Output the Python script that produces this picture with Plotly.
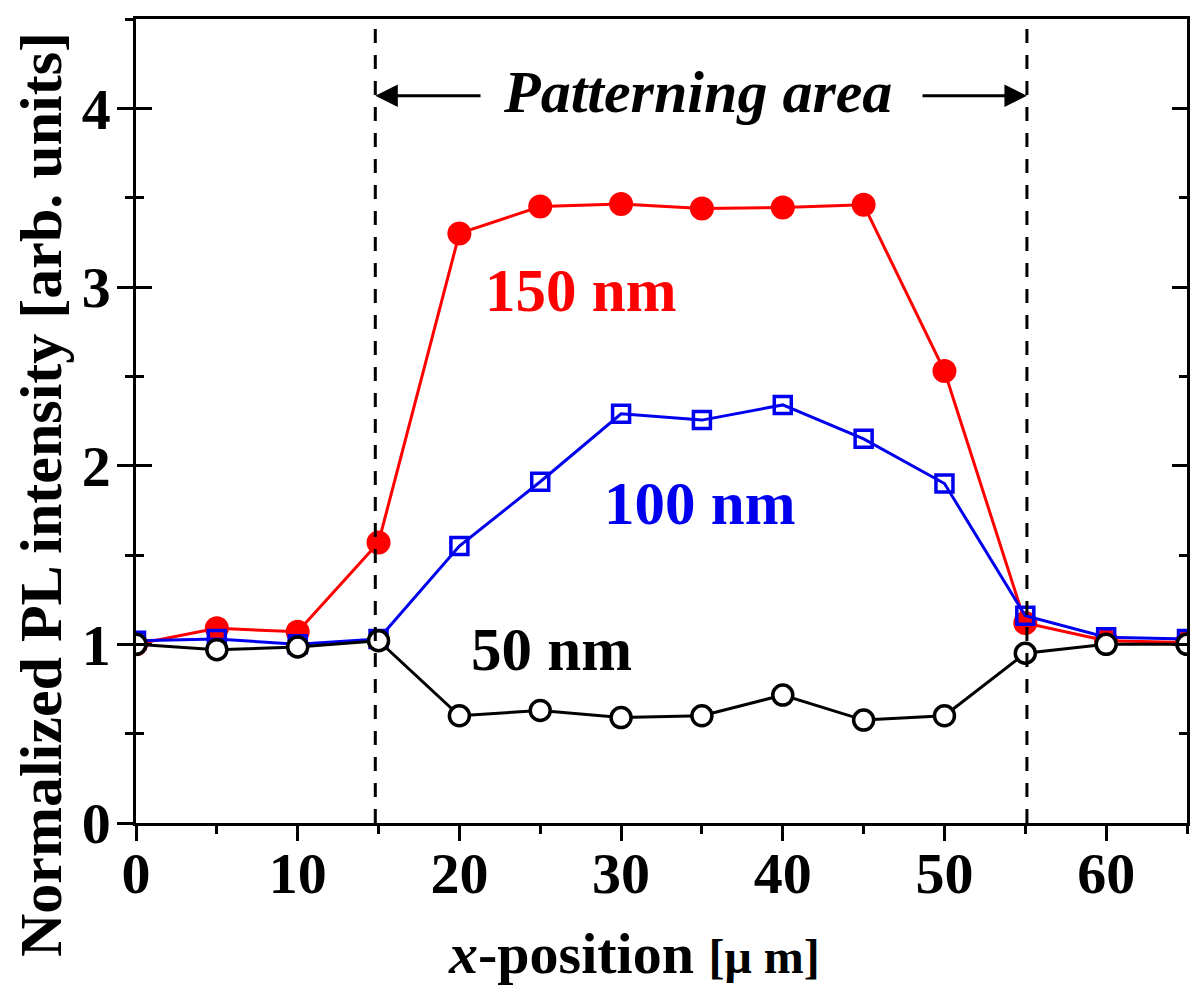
import plotly.graph_objects as go

x_pos = [0, 5, 10, 15, 20, 25, 30, 35, 40, 45, 50, 55, 60, 65]
pl_150 = [1.00, 1.09, 1.07, 1.57, 3.30, 3.45, 3.465, 3.44, 3.445, 3.46, 2.53, 1.12, 1.02, 1.01]
pl_100 = [1.02, 1.03, 1.00, 1.03, 1.55, 1.91, 2.29, 2.255, 2.34, 2.15, 1.90, 1.16, 1.04, 1.03]
pl_50 = [1.00, 0.97, 0.985, 1.02, 0.60, 0.63, 0.59, 0.60, 0.716, 0.576, 0.60, 0.95, 1.00, 1.00]

pattern_edges = [14.8, 55.1]
arrow_y = 4.07

FONT = "Liberation Serif"

fig = go.Figure()
fig.add_trace(go.Scatter(x=x_pos, y=pl_150, mode="lines+markers", name="150 nm",
                         line=dict(color="#ff0000", width=3),
                         marker=dict(symbol="circle", size=24, color="#ff0000",
                                     line=dict(width=0))))
fig.add_trace(go.Scatter(x=x_pos, y=pl_100, mode="lines+markers", name="100 nm",
                         line=dict(color="#0000ee", width=3),
                         marker=dict(symbol="square-open", size=17, color="#0000ee",
                                     line=dict(width=3.5))))
fig.add_trace(go.Scatter(x=x_pos, y=pl_50, mode="lines+markers", name="50 nm",
                         line=dict(color="#000000", width=3),
                         marker=dict(symbol="circle", size=20, color="white",
                                     line=dict(width=3.5, color="black"))))

for xe in pattern_edges:
    fig.add_shape(type="line", x0=xe, x1=xe, y0=0, y1=1, xref="x", yref="y domain",
                  line=dict(color="black", width=3, dash="14px,12px"))

# arrows
fig.add_annotation(x=pattern_edges[0], y=arrow_y, ax=21.4, ay=arrow_y, xref="x", yref="y",
                   axref="x", ayref="y", showarrow=True, arrowhead=2, arrowsize=1.5,
                   arrowwidth=3, arrowcolor="black", text="")
fig.add_annotation(x=pattern_edges[1], y=arrow_y, ax=48.55, ay=arrow_y, xref="x", yref="y",
                   axref="x", ayref="y", showarrow=True, arrowhead=2, arrowsize=1.5,
                   arrowwidth=3, arrowcolor="black", text="")
fig.add_annotation(x=34.75, y=4.09, xref="x", yref="y", showarrow=False,
                   xanchor="center", yanchor="middle",
                   text="<b><i>Patterning area</i></b>",
                   font=dict(family=FONT, size=60, color="black"))

fig.add_annotation(x=27.5, y=2.98, xref="x", yref="y", showarrow=False,
                   xanchor="center", yanchor="middle",
                   text="<b>150 nm</b>", font=dict(family=FONT, size=61, color="#ff0000"))
fig.add_annotation(x=34.9, y=1.79, xref="x", yref="y", showarrow=False,
                   xanchor="center", yanchor="middle",
                   text="<b>100 nm</b>", font=dict(family=FONT, size=61, color="#0000ee"))
fig.add_annotation(x=25.7, y=0.97, xref="x", yref="y", showarrow=False,
                   xanchor="center", yanchor="middle",
                   text="<b>50 nm</b>", font=dict(family=FONT, size=61, color="black"))

# axis titles
fig.add_annotation(x=0.5, y=0, xref="paper", yref="paper", xshift=-28, yshift=-130,
                   xanchor="center", yanchor="middle", showarrow=False,
                   text="<b><i>x</i>-position <span style='font-size:48px'>[μ m]</span></b>",
                   font=dict(family=FONT, size=58, color="black"))
fig.add_annotation(x=0, y=0.5, xref="paper", yref="paper", xshift=-95, yshift=-74,
                   xanchor="center", yanchor="middle", showarrow=False, textangle=-90,
                   text="<b>Normalized PL intensity [arb. units]</b>",
                   font=dict(family=FONT, size=60, color="black"))

tickfont = dict(family=FONT, size=58, color="black", weight="bold")
fig.update_layout(
    width=1184, height=980,
    margin=dict(l=128, r=2, t=11, b=165),
    paper_bgcolor="white", plot_bgcolor="white",
    showlegend=False,
    xaxis=dict(range=[0, 65], dtick=10, tick0=0, ticks="outside", ticklen=15, tickwidth=2.5,
               tickcolor="black", showline=True, linecolor="black", linewidth=2.5,
               mirror=True, showgrid=False, zeroline=False, tickfont=tickfont,
               tickformat="d", ticklabelstandoff=-17,
               minor=dict(dtick=5, tick0=0, ticks="outside", ticklen=8, tickwidth=2.5,
                          tickcolor="black", showgrid=False)),
    yaxis=dict(range=[0, 4.5], dtick=1, tick0=0, ticks="outside", ticklen=16, tickwidth=2.5,
               tickcolor="black", showline=True, linecolor="black", linewidth=2.5,
               mirror=True, showgrid=False, zeroline=False, tickfont=tickfont,
               ticklabelstandoff=-5,
               minor=dict(dtick=0.5, tick0=0, ticks="outside", ticklen=8, tickwidth=2.5,
                          tickcolor="black", showgrid=False)),
    yaxis2=dict(range=[0, 4.5], overlaying="y", side="right", anchor="x", dtick=1, tick0=0,
                ticks="inside", ticklen=15, tickwidth=2.5, tickcolor="black",
                showticklabels=False, showline=False, showgrid=False, zeroline=False,
                minor=dict(dtick=0.5, tick0=0, ticks="inside", ticklen=8, tickwidth=2.5,
                           tickcolor="black", showgrid=False)),
    yaxis3=dict(range=[0, 4.5], overlaying="y", side="left", anchor="x", dtick=1, tick0=0,
                ticks="inside", ticklen=16, tickwidth=2.5, tickcolor="black",
                showticklabels=False, showline=False, showgrid=False, zeroline=False,
                minor=dict(dtick=0.5, tick0=0, ticks="inside", ticklen=8, tickwidth=2.5,
                           tickcolor="black", showgrid=False)),
)
fig.add_trace(go.Scatter(x=[], y=[], yaxis="y2", showlegend=False, hoverinfo="skip"))
fig.add_trace(go.Scatter(x=[], y=[], yaxis="y3", showlegend=False, hoverinfo="skip"))

fig.write_html("out.html")
